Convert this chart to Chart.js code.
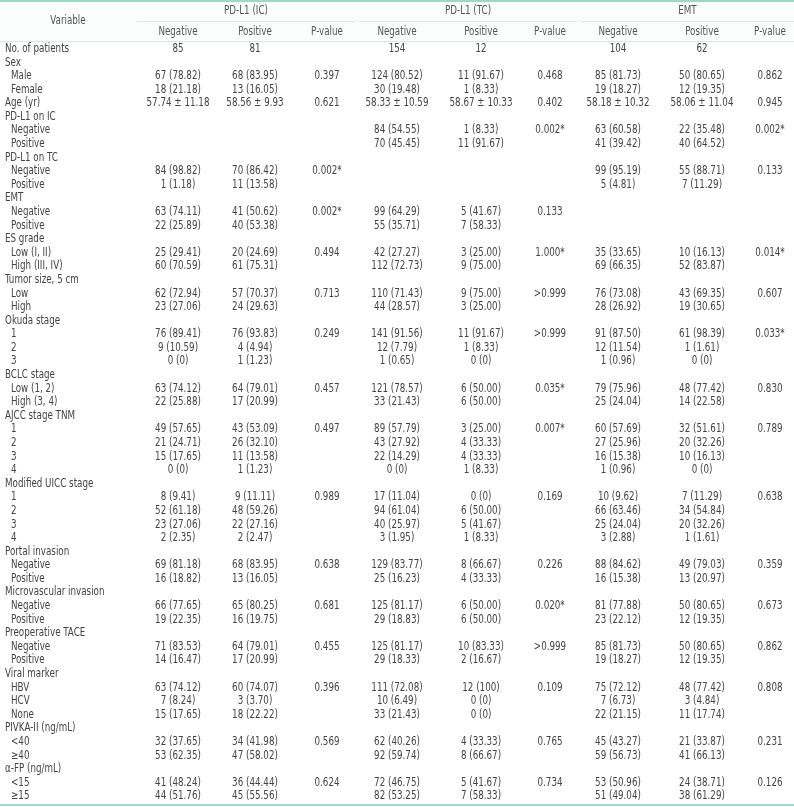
<!DOCTYPE html>
<html>
<head>
<meta charset="utf-8">
<script src="https://cdn.jsdelivr.net/npm/chart.js@4.4.0/dist/chart.umd.min.js"></script>
<style>
  html, body { margin: 0; padding: 0; background: #fff; }
  #wrap { width: 794px; height: 807px; position: relative; }
</style>
</head>
<body>
<div id="wrap"><canvas id="tableChart"></canvas></div>
<script>
// 표 데이터 (한 줄 = 한 항목 묶음)
const rowLabels = [
    'No. of patients',
    'Sex', 'Male', 'Female',
    'Age (yr)',
    'PD-L1 on IC', 'Negative', 'Positive',
    'PD-L1 on TC', 'Negative', 'Positive',
    'EMT', 'Negative', 'Positive',
    'ES grade', 'Low (I, II)', 'High (III, IV)',
    'Tumor size, 5 cm', 'Low', 'High',
    'Okuda stage', '1', '2', '3',
    'BCLC stage', 'Low (1, 2)', 'High (3, 4)',
    'AJCC stage TNM', '1', '2', '3', '4',
    'Modified UICC stage', '1', '2', '3', '4',
    'Portal invasion', 'Negative', 'Positive',
    'Microvascular invasion', 'Negative', 'Positive',
    'Preoperative TACE', 'Negative', 'Positive',
    'Viral marker', 'HBV', 'HCV', 'None',
    'PIVKA-II (ng/mL)', '<40', '≥40',
    'α-FP (ng/mL)', '<15', '≥15'
];

const rowLevel = [
    0,
    0, 1, 1,
    0,
    0, 1, 1,
    0, 1, 1,
    0, 1, 1,
    0, 1, 1,
    0, 1, 1,
    0, 1, 1, 1,
    0, 1, 1,
    0, 1, 1, 1, 1,
    0, 1, 1, 1, 1,
    0, 1, 1,
    0, 1, 1,
    0, 1, 1,
    0, 1, 1, 1,
    0, 1, 1,
    0, 1, 1
];

const groupLabels = ['PD-L1 (IC)', 'PD-L1 (TC)', 'EMT'];
const subLabels = ['Negative', 'Positive', 'P-value'];

const icNeg = [
    '85',
    '', '67 (78.82)', '18 (21.18)',
    '57.74 ± 11.18',
    '', '', '',
    '', '84 (98.82)', '1 (1.18)',
    '', '63 (74.11)', '22 (25.89)',
    '', '25 (29.41)', '60 (70.59)',
    '', '62 (72.94)', '23 (27.06)',
    '', '76 (89.41)', '9 (10.59)', '0 (0)',
    '', '63 (74.12)', '22 (25.88)',
    '', '49 (57.65)', '21 (24.71)', '15 (17.65)', '0 (0)',
    '', '8 (9.41)', '52 (61.18)', '23 (27.06)', '2 (2.35)',
    '', '69 (81.18)', '16 (18.82)',
    '', '66 (77.65)', '19 (22.35)',
    '', '71 (83.53)', '14 (16.47)',
    '', '63 (74.12)', '7 (8.24)', '15 (17.65)',
    '', '32 (37.65)', '53 (62.35)',
    '', '41 (48.24)', '44 (51.76)'
];
const icPos = [
    '81',
    '', '68 (83.95)', '13 (16.05)',
    '58.56 ± 9.93',
    '', '', '',
    '', '70 (86.42)', '11 (13.58)',
    '', '41 (50.62)', '40 (53.38)',
    '', '20 (24.69)', '61 (75.31)',
    '', '57 (70.37)', '24 (29.63)',
    '', '76 (93.83)', '4 (4.94)', '1 (1.23)',
    '', '64 (79.01)', '17 (20.99)',
    '', '43 (53.09)', '26 (32.10)', '11 (13.58)', '1 (1.23)',
    '', '9 (11.11)', '48 (59.26)', '22 (27.16)', '2 (2.47)',
    '', '68 (83.95)', '13 (16.05)',
    '', '65 (80.25)', '16 (19.75)',
    '', '64 (79.01)', '17 (20.99)',
    '', '60 (74.07)', '3 (3.70)', '18 (22.22)',
    '', '34 (41.98)', '47 (58.02)',
    '', '36 (44.44)', '45 (55.56)'
];
const icP = [
    '',
    '', '0.397', '',
    '0.621',
    '', '', '',
    '', '0.002*', '',
    '', '0.002*', '',
    '', '0.494', '',
    '', '0.713', '',
    '', '0.249', '', '',
    '', '0.457', '',
    '', '0.497', '', '', '',
    '', '0.989', '', '', '',
    '', '0.638', '',
    '', '0.681', '',
    '', '0.455', '',
    '', '0.396', '', '',
    '', '0.569', '',
    '', '0.624', ''
];

const tcNeg = [
    '154',
    '', '124 (80.52)', '30 (19.48)',
    '58.33 ± 10.59',
    '', '84 (54.55)', '70 (45.45)',
    '', '', '',
    '', '99 (64.29)', '55 (35.71)',
    '', '42 (27.27)', '112 (72.73)',
    '', '110 (71.43)', '44 (28.57)',
    '', '141 (91.56)', '12 (7.79)', '1 (0.65)',
    '', '121 (78.57)', '33 (21.43)',
    '', '89 (57.79)', '43 (27.92)', '22 (14.29)', '0 (0)',
    '', '17 (11.04)', '94 (61.04)', '40 (25.97)', '3 (1.95)',
    '', '129 (83.77)', '25 (16.23)',
    '', '125 (81.17)', '29 (18.83)',
    '', '125 (81.17)', '29 (18.33)',
    '', '111 (72.08)', '10 (6.49)', '33 (21.43)',
    '', '62 (40.26)', '92 (59.74)',
    '', '72 (46.75)', '82 (53.25)'
];
const tcPos = [
    '12',
    '', '11 (91.67)', '1 (8.33)',
    '58.67 ± 10.33',
    '', '1 (8.33)', '11 (91.67)',
    '', '', '',
    '', '5 (41.67)', '7 (58.33)',
    '', '3 (25.00)', '9 (75.00)',
    '', '9 (75.00)', '3 (25.00)',
    '', '11 (91.67)', '1 (8.33)', '0 (0)',
    '', '6 (50.00)', '6 (50.00)',
    '', '3 (25.00)', '4 (33.33)', '4 (33.33)', '1 (8.33)',
    '', '0 (0)', '6 (50.00)', '5 (41.67)', '1 (8.33)',
    '', '8 (66.67)', '4 (33.33)',
    '', '6 (50.00)', '6 (50.00)',
    '', '10 (83.33)', '2 (16.67)',
    '', '12 (100)', '0 (0)', '0 (0)',
    '', '4 (33.33)', '8 (66.67)',
    '', '5 (41.67)', '7 (58.33)'
];
const tcP = [
    '',
    '', '0.468', '',
    '0.402',
    '', '0.002*', '',
    '', '', '',
    '', '0.133', '',
    '', '1.000*', '',
    '', '>0.999', '',
    '', '>0.999', '', '',
    '', '0.035*', '',
    '', '0.007*', '', '', '',
    '', '0.169', '', '', '',
    '', '0.226', '',
    '', '0.020*', '',
    '', '>0.999', '',
    '', '0.109', '', '',
    '', '0.765', '',
    '', '0.734', ''
];

const emtNeg = [
    '104',
    '', '85 (81.73)', '19 (18.27)',
    '58.18 ± 10.32',
    '', '63 (60.58)', '41 (39.42)',
    '', '99 (95.19)', '5 (4.81)',
    '', '', '',
    '', '35 (33.65)', '69 (66.35)',
    '', '76 (73.08)', '28 (26.92)',
    '', '91 (87.50)', '12 (11.54)', '1 (0.96)',
    '', '79 (75.96)', '25 (24.04)',
    '', '60 (57.69)', '27 (25.96)', '16 (15.38)', '1 (0.96)',
    '', '10 (9.62)', '66 (63.46)', '25 (24.04)', '3 (2.88)',
    '', '88 (84.62)', '16 (15.38)',
    '', '81 (77.88)', '23 (22.12)',
    '', '85 (81.73)', '19 (18.27)',
    '', '75 (72.12)', '7 (6.73)', '22 (21.15)',
    '', '45 (43.27)', '59 (56.73)',
    '', '53 (50.96)', '51 (49.04)'
];
const emtPos = [
    '62',
    '', '50 (80.65)', '12 (19.35)',
    '58.06 ± 11.04',
    '', '22 (35.48)', '40 (64.52)',
    '', '55 (88.71)', '7 (11.29)',
    '', '', '',
    '', '10 (16.13)', '52 (83.87)',
    '', '43 (69.35)', '19 (30.65)',
    '', '61 (98.39)', '1 (1.61)', '0 (0)',
    '', '48 (77.42)', '14 (22.58)',
    '', '32 (51.61)', '20 (32.26)', '10 (16.13)', '0 (0)',
    '', '7 (11.29)', '34 (54.84)', '20 (32.26)', '1 (1.61)',
    '', '49 (79.03)', '13 (20.97)',
    '', '50 (80.65)', '12 (19.35)',
    '', '50 (80.65)', '12 (19.35)',
    '', '48 (77.42)', '3 (4.84)', '11 (17.74)',
    '', '21 (33.87)', '41 (66.13)',
    '', '24 (38.71)', '38 (61.29)'
];
const emtP = [
    '',
    '', '0.862', '',
    '0.945',
    '', '0.002*', '',
    '', '0.133', '',
    '', '', '',
    '', '0.014*', '',
    '', '0.607', '',
    '', '0.033*', '', '',
    '', '0.830', '',
    '', '0.789', '', '', '',
    '', '0.638', '', '', '',
    '', '0.359', '',
    '', '0.673', '',
    '', '0.862', '',
    '', '0.808', '', '',
    '', '0.231', '',
    '', '0.126', ''
];

const valueCols = [icNeg, icPos, icP, tcNeg, tcPos, tcP, emtNeg, emtPos, emtP];

// 레이아웃 (x축 값 기준, 0 ~ 794)
const colCenters = [178, 255, 327, 397, 481, 550, 618, 702, 770];
const groupSpans = [[137, 355], [359, 577], [581, 794]];
const HEADER_H = 42;

const FONT = "'DejaVu Sans Condensed', sans-serif";
const SQUEEZE = 0.81;   // 좁은 글꼴 흉내
const TEAL = '#a3d6c9';
const RULE = '#dde6e3';
const TEXT = '#444';
const HEAD_TEXT = '#555';

// 가로로 좁혀서 글자 그리기
function drawText(ctx, str, px, py, align) {
    ctx.save();
    ctx.translate(px, py);
    ctx.scale(SQUEEZE, 1);
    ctx.textAlign = align;
    ctx.fillText(str, 0, 0);
    ctx.restore();
}

const tablePlugin = {
    id: 'tablePlugin',
    afterDraw(chart) {
        const ctx = chart.ctx;
        const x = chart.scales.x;
        const y = chart.scales.y;
        const area = chart.chartArea;
        const left = x.getPixelForValue(0);
        const right = x.getPixelForValue(794);

        ctx.save();

        // 헤더 배경
        ctx.fillStyle = '#fbfdfc';
        ctx.fillRect(left, 0, right - left, HEADER_H);

        // 선
        ctx.fillStyle = TEAL;
        ctx.fillRect(left, 0, right - left, 2);
        ctx.fillRect(left, area.bottom + 1, right - left, 2);
        ctx.fillStyle = RULE;
        ctx.fillRect(left, HEADER_H - 1, right - left, 1);
        groupSpans.forEach(s => {
            const a = x.getPixelForValue(s[0]);
            const b = x.getPixelForValue(s[1]);
            ctx.fillRect(a, 21, b - a, 1);
        });

        // 헤더 텍스트
        ctx.font = '12px ' + FONT;
        ctx.fillStyle = HEAD_TEXT;
        ctx.textBaseline = 'middle';
        drawText(ctx, 'Variable', x.getPixelForValue(68), 21, 'center');
        groupLabels.forEach((g, i) => {
            const s = groupSpans[i];
            drawText(ctx, g, x.getPixelForValue((s[0] + s[1]) / 2), 11, 'center');
        });
        colCenters.forEach((c, i) => {
            drawText(ctx, subLabels[i % 3], x.getPixelForValue(c), 32, 'center');
        });

        // 본문
        ctx.fillStyle = TEXT;
        rowLabels.forEach((label, r) => {
            const py = y.getPixelForValue(r);
            drawText(ctx, label, x.getPixelForValue(rowLevel[r] ? 11 : 5), py, 'left');
            valueCols.forEach((col, c) => {
                if (col[r]) drawText(ctx, col[r], x.getPixelForValue(colCenters[c]), py, 'center');
            });
        });

        ctx.restore();
    }
};

new Chart(document.getElementById('tableChart').getContext('2d'), {
    type: 'scatter',
    data: {
        labels: rowLabels,
        datasets: [{ data: [] }]
    },
    options: {
        responsive: true,
        maintainAspectRatio: false,
        animation: false,
        layout: { padding: { top: HEADER_H, bottom: 4, left: 0, right: 0 } },
        plugins: {
            legend: { display: false },
            tooltip: { enabled: false }
        },
        scales: {
            x: { type: 'linear', min: 0, max: 794, display: false },
            y: { type: 'category', labels: rowLabels, offset: true, display: false }
        }
    },
    plugins: [tablePlugin]
});
</script>
</body>
</html>
